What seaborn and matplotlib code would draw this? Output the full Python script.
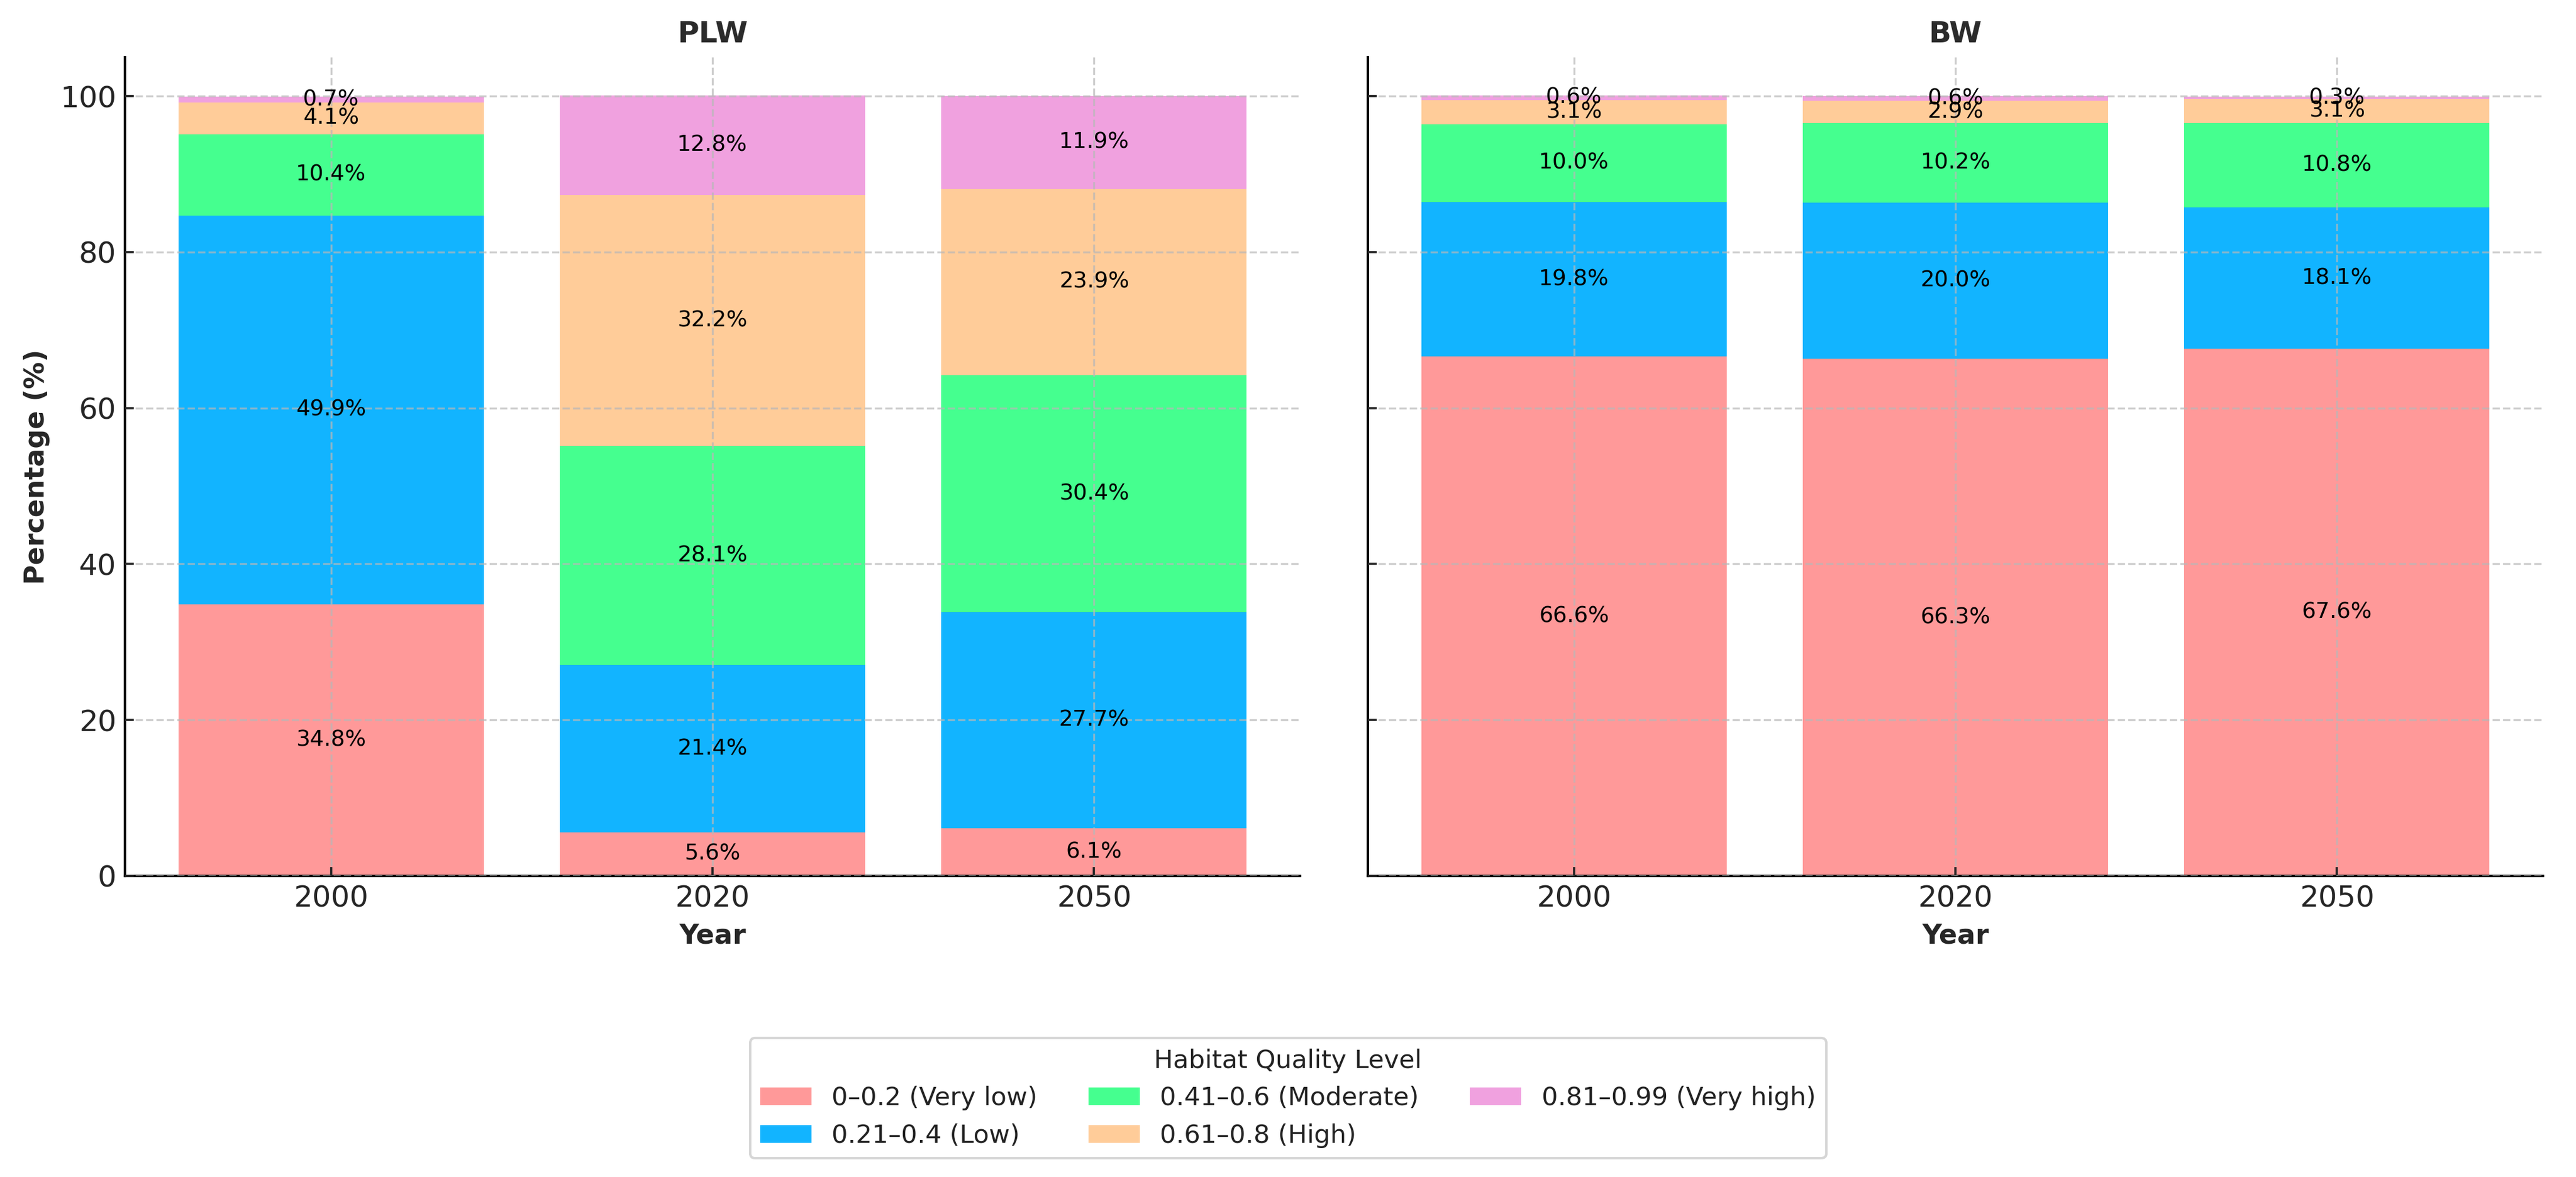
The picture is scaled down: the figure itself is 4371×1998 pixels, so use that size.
import numpy as np
import matplotlib
matplotlib.use("Agg")
import matplotlib.pyplot as plt
import seaborn as sns

# habitat quality share (%) per year, bottom level first
years = ["2000", "2020", "2050"]
levels = ["0–0.2 (Very low)", "0.21–0.4 (Low)", "0.41–0.6 (Moderate)",
          "0.61–0.8 (High)", "0.81–0.99 (Very high)"]
colors = ["#ff9999", "#12b4ff", "#45ff8f", "#ffcc99", "#f0a1df"]

plw_very_low = [34.8, 5.6, 6.1]
plw_low = [49.9, 21.4, 27.7]
plw_moderate = [10.4, 28.1, 30.4]
plw_high = [4.1, 32.2, 23.9]
plw_very_high = [0.7, 12.8, 11.9]

bw_very_low = [66.6, 66.3, 67.6]
bw_low = [19.8, 20.0, 18.1]
bw_moderate = [10.0, 10.2, 10.8]
bw_high = [3.1, 2.9, 3.1]
bw_very_high = [0.6, 0.6, 0.3]

regions = {
    "PLW": [plw_very_low, plw_low, plw_moderate, plw_high, plw_very_high],
    "BW": [bw_very_low, bw_low, bw_moderate, bw_high, bw_very_high],
}

sns.set_style("ticks", {"xtick.direction": "in", "ytick.direction": "in"})
plt.rcParams["font.family"] = ["DejaVu Sans"]


def stacked_panel(ax, parts, title):
    '''
    stacked bars drawn as cumulative totals, top level first so the
    lower levels paint over it
    '''
    vals = np.array(parts)
    cum = np.cumsum(vals, axis=0)
    for i in reversed(range(len(levels))):
        sns.barplot(x=years, y=cum[i], color=colors[i], saturation=1,
                    width=0.8, label=levels[i], ax=ax, zorder=1,
                    linewidth=0, edgecolor=colors[i])
    if ax.get_legend() is not None:
        ax.get_legend().remove()
    # segment labels in the middle of each piece
    for i in range(len(levels)):
        base = cum[i] - vals[i]
        for j in range(len(years)):
            ax.text(j, base[j] + vals[i][j] / 2, f"{vals[i][j]:.1f}%",
                    ha="center", va="center", fontsize=9, color="black",
                    zorder=4)
    ax.set_xlim(-0.54, 2.54)
    ax.set_ylim(0, 105)
    ax.set_axisbelow(False)
    ax.grid(True, axis="both", linestyle="--", color="#b8b8b8",
            linewidth=0.8, alpha=0.7)
    ax.set_title(title, fontsize=12, fontweight="bold", color="#2b2b2b")
    ax.set_xlabel("Year", fontsize=11, fontweight="bold")
    ax.set_ylabel("Percentage (%)", fontsize=11, fontweight="bold")
    ax.tick_params(axis="both", labelsize=12, length=3.6, width=0.9)
    sns.despine(ax=ax)
    for s in ["left", "bottom"]:
        ax.spines[s].set_linewidth(1.0)
        ax.spines[s].set_color("black")


fig, axes = plt.subplots(1, 2, figsize=(14.57, 6.66), dpi=300, sharey=True)
for ax, (name, parts) in zip(axes, regions.items()):
    stacked_panel(ax, parts, name)
axes[1].tick_params(axis="y", labelleft=False)
axes[0].set_yticks([0, 20, 40, 60, 80, 100])

fig.subplots_adjust(left=0.0485, right=0.9872, bottom=0.2558, top=0.9515,
                    wspace=0.0577)

handles, labels = axes[0].get_legend_handles_labels()
order = [labels.index(l) for l in levels]
leg = fig.legend([handles[k] for k in order], levels, loc="lower center",
                 bbox_to_anchor=(0.5, 0.005), ncol=3, fontsize=10.4,
                 title="Habitat Quality Level", title_fontsize=10.4,
                 frameon=True)
for t in leg.get_texts():
    t.set_color("#222222")
leg.get_title().set_color("#222222")

fig.savefig("out.png", dpi=300)
